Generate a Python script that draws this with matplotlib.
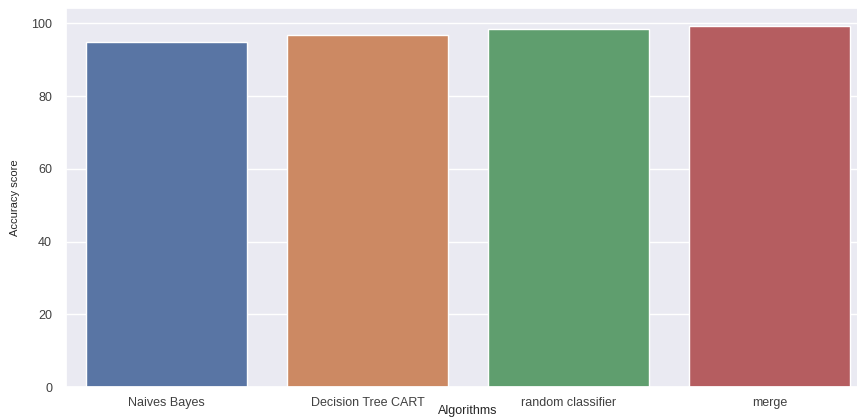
import matplotlib
matplotlib.use("Agg")
import matplotlib.pyplot as plt
import seaborn as sns

# Данные
algorithms = ['Naives Bayes', 'Decision Tree CART', 'random classifier', 'merge']
accuracy = [94.8, 96.9, 98.6, 99.3]

sns.set_theme(style='darkgrid')
plt.rcParams['font.family'] = ['Liberation Sans', 'DejaVu Sans']

fig = plt.figure(figsize=(8.57, 4.18), dpi=100)
# ось немного выходит за правый край, как в исходной картинке
ax = fig.add_axes([0.077, 0.074, 0.938, 0.907])

sns.barplot(x=algorithms, y=accuracy, hue=algorithms, palette='deep', legend=False, ax=ax)

ax.set_xlabel('Algorithms', fontsize=9, labelpad=-2.5, color='.15')
ax.set_ylabel('Accuracy score', fontsize=8, labelpad=8, color='.15')
ax.tick_params(axis='x', labelsize=9, pad=1, labelcolor='.25')
ax.tick_params(axis='y', labelsize=9, pad=4, labelcolor='.25')
ax.set_yticks([0, 20, 40, 60, 80, 100])

plt.savefig('out.png', dpi=100)
